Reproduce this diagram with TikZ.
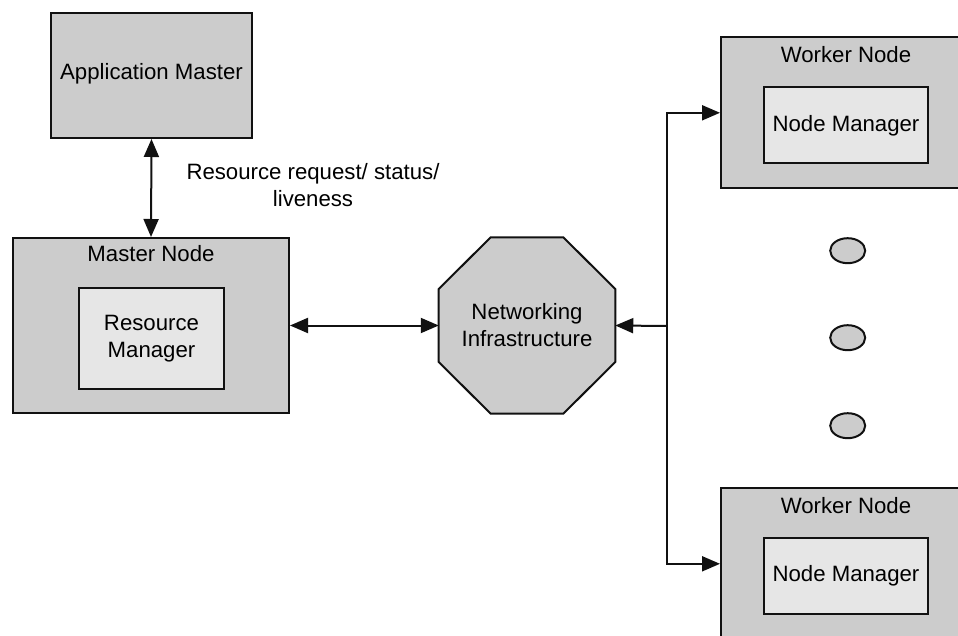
\documentclass[tikz,border=0pt]{standalone}
\usepackage{fontspec}
\setmainfont{Liberation Sans}
\usetikzlibrary{arrows.meta,shapes.geometric,backgrounds}
\definecolor{outergray}{HTML}{CCCCCC}
\definecolor{innergray}{HTML}{E6E6E6}
\definecolor{edge}{HTML}{111111}
\tikzset{
  basefont/.style={font=\fontsize{11.1}{13.5}\selectfont},
  outerbox/.style={rectangle, draw=edge, fill=outergray, line width=1pt, inner sep=0pt},
  innerbox/.style={rectangle, draw=edge, fill=innergray, line width=1pt, inner sep=0pt, align=center, basefont},
  titletext/.style={inner sep=0pt, basefont},
  octoframe/.style={draw=edge, fill=outergray, line width=1pt, line join=miter},
  octo/.style={rectangle, minimum width=88.25pt, minimum height=87.9pt, inner sep=0pt, outer sep=0pt, align=center, basefont},
  dot/.style={ellipse, draw=edge, fill=outergray, line width=1pt, minimum width=17.5pt, minimum height=12.5pt, inner sep=0pt},
  conn/.style={draw=edge, line width=1pt, arrows={-Triangle[length=9pt,width=7.5pt]}},
  biconn/.style={draw=edge, line width=1pt, arrows={Triangle[length=9pt,width=7.5pt]-Triangle[length=9pt,width=7.5pt]}},
}
\begin{document}
\begin{tikzpicture}[x=0.5pt,y=-0.5pt]
\clip (0,0) rectangle (958,636);

% Application Master
\node[outerbox, minimum width=100.5pt, minimum height=62.5pt, basefont] (am) at (151.5,75.5) {};
\node[titletext] (amt) at (151.5,73.5) {Application Master};

% Master Node
\node[outerbox, minimum width=138pt, minimum height=87.5pt] (mn) at (151,325.5) {};
\node[titletext] (mnt) at (151,254) {Master Node};
\node[innerbox, minimum width=72.5pt, minimum height=50.3pt] (rm) at (151.5,338.3) {Resource\\Manager};

% Networking Infrastructure
\node[octo] (net) at (527,325.5) {Networking\\Infrastructure};
\begin{scope}[on background layer]
  \fill[white] (0,0) rectangle (958,636);
  \draw[octoframe, shift={(net.center)}]
    (-36.5,-88) -- (36.5,-88) -- (88.3,-36.5) -- (88.3,36.5) -- (36.5,88) -- (-36.5,88) -- (-88.3,36.5) -- (-88.3,-36.5) -- cycle;
\end{scope}

% Worker nodes
\node[outerbox, minimum width=125pt, minimum height=75.5pt] (w1) at (846,112.8) {};
\node[titletext] (w1t) at (846,55) {Worker Node};
\node[innerbox, minimum width=82pt, minimum height=38pt] (nm1) at (846,125.3) {Node Manager};

\node[outerbox, minimum width=125pt, minimum height=75.5pt] (w2) at (846,563.8) {};
\node[titletext] (w2t) at (846,505.7) {Worker Node};
\node[innerbox, minimum width=82pt, minimum height=37.8pt] (nm2) at (846,576.2) {Node Manager};

% dots
\node[dot] (d1) at (847.7,250.7) {};
\node[dot] (d2) at (847.7,337.7) {};
\node[dot] (d3) at (847.7,425.7) {};

% connectors
\draw[biconn] (am.south) -- (mn.north);
\node[titletext, align=center] (lbl) at (313,185.5) {Resource request/ status/\\liveness};
\draw[biconn] (mn.east) -- (net.west);

\coordinate (j) at (667,326);
\draw[conn] (j) -- (net.east);
\draw[conn] (j) |- (w1.west);
\draw[conn] (j) |- (w2.west);
\end{tikzpicture}
\end{document}
